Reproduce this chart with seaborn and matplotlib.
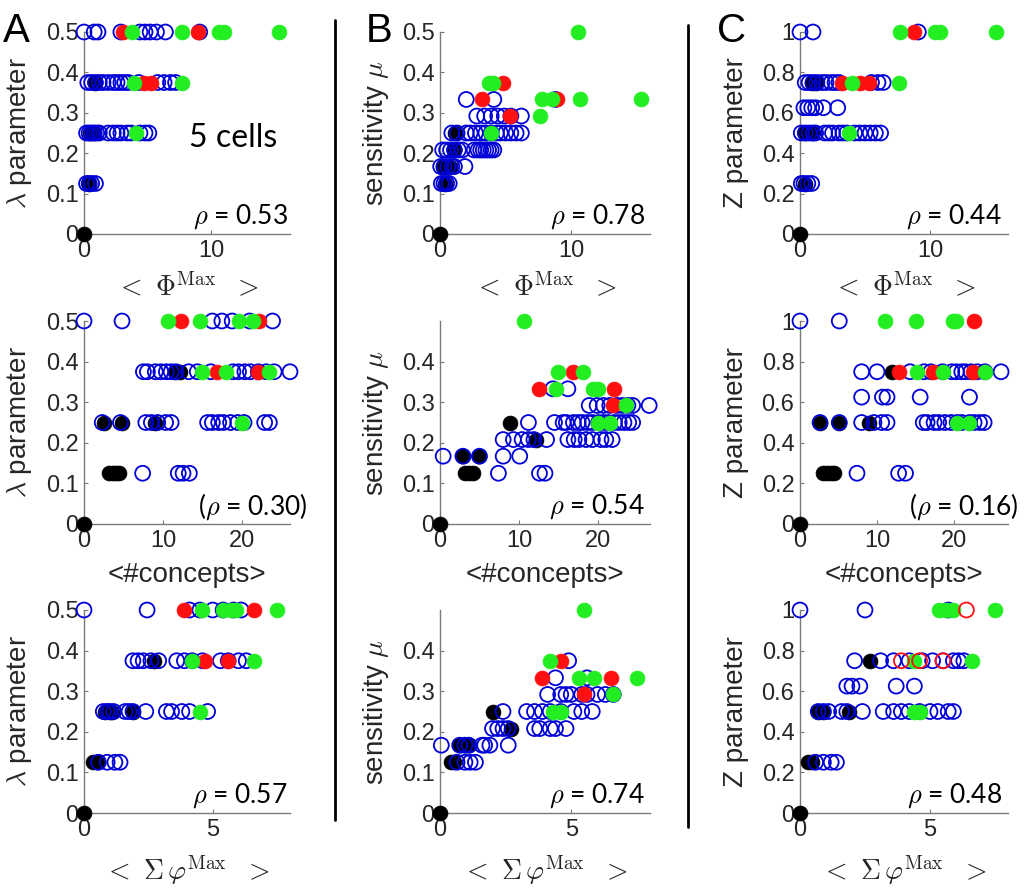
import pandas as pd
import seaborn as sns
import matplotlib.pyplot as plt
from matplotlib.lines import Line2D

sns.set_theme(style='white')
plt.rcParams['font.family'] = ['Liberation Sans', 'DejaVu Sans']
plt.rcParams['mathtext.fontset'] = 'cm'

# ---- data: {y level: [x values]} per panel and marker kind ----
# column A: lambda parameter
A1_open = {0.125: [0.2, 0.4, 0.6, 0.9],
           0.25: [0.2, 0.4, 0.6, 0.8, 1.0, 1.2, 1.9, 2.3, 2.6, 2.9, 3.4, 3.7, 4.4, 4.8, 5.1],
           0.375: [0.3, 0.6, 0.9, 1.2, 1.5, 1.9, 2.3, 2.6, 2.9, 3.2, 3.5, 4.3, 5.8, 6.3, 6.8, 7.2],
           0.5: [0.0, 0.8, 1.1, 2.9, 4.4, 4.8, 5.2, 5.7, 6.4, 9.1]}
A1_black = {0: [0.0], 0.125: [0.4], 0.25: [0.5, 0.8], 0.375: [0.9]}
A1_red = {0.375: [4.7, 5.3], 0.5: [3.1, 9.0]}
A1_green = {0.25: [4.1], 0.375: [3.9, 7.7], 0.5: [3.8, 7.7, 10.6, 11.0, 15.3]}

A2_open = {0.125: [7.4, 11.9, 12.5, 13.3],
           0.25: [2.3, 4.6, 7.8, 8.5, 9.3, 10.3, 11.0, 15.6, 16.2, 17.0, 17.6, 18.5, 19.4, 20.2, 22.8, 23.4],
           0.375: [7.5, 8.0, 9.0, 9.7, 10.4, 11.0, 11.6, 13.2, 14.3, 16.0, 18.8, 19.5, 20.3, 21.0, 22.0, 23.0, 24.0, 26.0],
           0.5: [0.0, 4.8, 16.2, 17.4, 18.7, 20.9, 23.8]}
A2_black = {0: [0.0], 0.125: [3.2, 3.6, 4.0, 4.4], 0.25: [2.5, 4.8, 8.9], 0.375: [11.5, 12.1]}
A2_red = {0.375: [16.8, 21.9], 0.5: [12.2, 22.1]}
A2_green = {0.25: [20.0], 0.375: [14.9, 17.9, 23.4], 0.5: [10.6, 14.7, 19.6, 21.3]}

A3_open = {0.125: [0.56, 0.9, 1.2, 1.4],
           0.25: [0.75, 0.9, 1.0, 1.15, 1.6, 1.75, 1.9, 2.4, 3.2, 3.4, 3.8, 4.1, 4.8],
           0.375: [1.9, 2.1, 2.3, 2.6, 2.9, 3.6, 3.9, 4.2, 4.6, 5.3, 5.6, 6.0, 6.3],
           0.5: [0.0, 2.45, 4.1, 4.5, 5.0, 5.4, 5.8, 6.1]}
A3_black = {0: [0.0], 0.125: [0.36, 0.5], 0.25: [0.8, 1.0, 1.1, 1.9], 0.375: [2.7]}
A3_red = {0.375: [4.7, 5.6], 0.5: [3.9, 6.6]}
A3_green = {0.25: [4.5], 0.375: [4.2, 6.6], 0.5: [4.6, 5.4, 5.7, 5.9, 7.5]}

# column B: sensitivity mu
B1_open = {0.125: [0.1, 0.3, 0.5, 0.7],
           0.167: [0.05, 0.3, 0.6, 0.9, 1.1, 1.9],
           0.208: [0.2, 0.5, 0.8, 1.1, 1.4, 1.7, 2.6, 2.9, 3.1, 3.3, 3.5, 3.7, 3.9, 4.1],
           0.25: [0.9, 1.3, 2.0, 2.3, 2.7, 3.1, 3.5, 3.9, 4.3, 4.6, 5.0, 5.4, 5.8, 6.2],
           0.292: [2.8, 3.4, 3.9, 4.4, 4.9, 5.4, 6.2],
           0.333: [2.0, 4.1, 8.8]}
B1_black = {0: [0.0], 0.125: [0.4], 0.167: [0.25, 0.75], 0.208: [1.1], 0.25: [1.15]}
B1_red = {0.292: [5.3], 0.333: [3.2, 8.9], 0.375: [4.8]}
B1_green = {0.25: [3.9], 0.292: [7.6], 0.333: [7.8, 8.5, 10.7, 15.3], 0.375: [3.7, 4.0], 0.5: [10.5]}

B2_open = {0.125: [7.4, 12.6, 13.3],
           0.167: [0.4, 2.9, 5.0, 8.0, 10.1],
           0.208: [8.0, 9.3, 10.4, 11.2, 11.9, 13.5, 16.2, 17.0, 17.6, 18.5, 19.3, 20.4, 21.0, 21.8],
           0.25: [11.2, 14.5, 15.6, 16.0, 16.9, 17.5, 18.0, 18.7, 19.3, 20.1, 20.7, 21.3, 22.1, 22.7, 23.3, 23.9, 24.4],
           0.292: [18.9, 19.9, 20.7, 21.5, 22.4, 23.1, 23.8, 24.4, 26.5],
           0.333: [14.3, 16.2]}
B2_black = {0: [0.0], 0.125: [3.2, 3.7, 4.2], 0.167: [2.9, 5.0], 0.208: [12.2], 0.25: [8.9]}
B2_red = {0.292: [21.9], 0.333: [12.5, 22.1], 0.375: [16.8]}
B2_green = {0.25: [20.0, 21.5], 0.292: [23.6], 0.333: [14.7, 19.4, 20.0], 0.375: [14.9, 18.1], 0.5: [10.7]}

B3_open = {0.125: [0.65, 0.95, 1.15, 1.35],
           0.167: [0.05, 0.75, 0.95, 1.1, 1.6, 1.7, 1.9, 2.6],
           0.208: [2.0, 2.2, 2.4, 2.6, 3.6, 3.8, 4.2, 4.4, 4.8],
           0.25: [2.4, 3.3, 3.6, 3.9, 4.2, 4.6, 5.1, 5.4, 5.8],
           0.292: [4.1, 4.6, 4.8, 5.0, 5.4, 5.6, 6.0, 6.3, 6.6],
           0.333: [4.4, 5.6],
           0.375: [4.9]}
B3_black = {0: [0.0], 0.125: [0.4, 0.55], 0.167: [0.75, 0.95, 1.1], 0.208: [2.7], 0.25: [2.0]}
B3_red = {0.292: [5.5], 0.333: [3.9, 6.5], 0.375: [4.6]}
B3_green = {0.25: [4.3, 4.6], 0.292: [6.6], 0.333: [5.3, 5.85, 7.5], 0.375: [4.2], 0.5: [5.5]}

# column C: Z parameter
C1_open = {0.25: [0.1, 0.3, 0.6, 0.9],
           0.5: [0.1, 0.4, 0.7, 1.0, 1.2, 1.9, 2.2, 2.5, 3.0, 3.3, 3.6, 4.2, 4.6, 5.0, 5.4, 5.8, 6.2],
           0.625: [0.3, 0.6, 0.9, 1.2, 1.8, 2.9],
           0.75: [0.4, 0.7, 1.0, 1.3, 1.7, 2.0, 2.4, 2.7, 3.0, 5.5, 6.0, 6.4],
           1.0: [0.0, 1.0, 9.1]}
C1_black = {0: [0.0], 0.25: [0.4], 0.5: [0.4, 0.9], 0.75: [0.9, 1.2]}
C1_red = {0.75: [3.2, 4.6, 5.3], 1.0: [8.8]}
C1_green = {0.5: [3.8], 0.75: [4.0, 7.6], 1.0: [7.7, 10.4, 10.8, 15.1]}

C2_open = {0.25: [7.4, 12.8, 13.7],
           0.5: [2.6, 5.1, 8.0, 9.6, 10.6, 11.3, 16.0, 16.5, 17.4, 18.0, 18.8, 19.6, 20.4, 21.0, 22.0, 22.6, 23.3, 23.9],
           0.625: [8.0, 10.7, 11.3, 15.6, 22.0],
           0.75: [8.0, 10.0, 14.3, 16.1, 17.0, 18.5, 19.7, 20.3, 21.0, 21.5, 22.2, 23.0, 24.0, 26.1],
           1.0: [0.0, 5.1]}
C2_black = {0: [0.0], 0.25: [3.0, 3.5, 4.0, 4.4], 0.5: [2.6, 5.1, 8.9], 0.75: [12.0]}
C2_red = {0.75: [12.8, 17.3, 22.5], 1.0: [22.6]}
C2_green = {0.5: [20.4, 22.0], 0.75: [15.2, 18.5, 24.0], 1.0: [11.0, 15.0, 19.8, 20.2]}

C3_open = {0.25: [0.6, 0.9, 1.2, 1.4],
           0.5: [0.7, 0.9, 1.1, 1.6, 1.8, 2.4, 3.2, 3.6, 3.9, 4.2, 4.6, 5.0, 5.3, 5.7, 5.9],
           0.625: [1.8, 2.0, 2.3, 3.7, 4.4],
           0.75: [2.1, 3.1, 3.6, 4.2, 4.7, 5.1, 5.5, 5.9, 6.1, 6.3],
           1.0: [0.0, 2.5, 5.7]}
C3_black = {0: [0.0], 0.25: [0.3, 0.45], 0.5: [0.7, 0.9, 1.9], 0.75: [2.7]}
C3_red = {}
C3_green = {0.5: [4.4, 4.6], 0.75: [4.4, 6.6], 1.0: [5.35, 5.6, 5.9, 7.5]}
C3_red_open = {0.75: [3.9, 4.6, 5.5], 1.0: [6.4]}

rho_text = {'A1': '0.53', 'B1': '0.78', 'C1': '0.44',
            'A2': '(0.30)', 'B2': '0.54', 'C2': '(0.16)',
            'A3': '0.57', 'B3': '0.74', 'C3': '0.48'}

ylabels = {'A': r'$\lambda$ parameter', 'B': r'sensitivity $\mu$', 'C': 'Z parameter'}
xlabels = [r'$<\ \Phi^{\mathrm{Max}}\ \ >$', '<#concepts>', r'$<\ \Sigma\,\varphi^{\mathrm{Max}}\ \ >$']
xmax = {'A': [16.2, 26.0, 8.0], 'B': [16.0, 26.6, 8.0], 'C': [16.0, 27.0, 8.0]}
xticks = [[0, 10], [0, 10, 20], [0, 5]]


def to_frame(levels):
    xs, ys = [], []
    for y, xv in levels.items():
        xs += xv
        ys += [y] * len(xv)
    return pd.DataFrame({'x': xs, 'y': ys})


BLUE = '#0000d8'
GREEN = '#22ee22'
RED = '#ff1010'
MS = 115

fig = plt.figure(figsize=(10.24, 8.89), dpi=100)
W, H = 1024, 889
col_px = {'A': (84, 290), 'B': (440, 650), 'C': (800, 1008)}
row_px = [(32, 234), (321, 524), (610, 813)]
xlab_px = [54, 51, 57]  # distance from x axis to label centre

for col in 'ABC':
    for r in range(3):
        key = f'{col}{r + 1}'
        l, rr = col_px[col]
        t, b = row_px[r]
        ax = fig.add_axes([l / W, 1 - b / H, (rr - l) / W, (b - t) / H])
        g = globals()
        layers = [(g[key + '_black'], 'black', 'black', 0.5),
                  (g[key + '_open'], 'none', BLUE, 1.3),
                  (g[key + '_red'], RED, RED, 0.5),
                  (g[key + '_green'], GREEN, GREEN, 0.5)]
        if key + '_red_open' in g:
            layers.append((g[key + '_red_open'], 'none', RED, 1.3))
        for levels, face, edge, lw in layers:
            df = to_frame(levels)
            if df.empty:
                continue
            sns.scatterplot(data=df, x='x', y='y', ax=ax, s=MS, marker='o',
                            color=edge, facecolor=face, edgecolor=edge,
                            linewidth=lw, clip_on=False, legend=False, zorder=3)

        ax.set_xlim(0, xmax[col][r])
        if col == 'C':
            ax.set_ylim(0, 1)
            ax.set_yticks([0, 0.2, 0.4, 0.6, 0.8, 1])
            ax.set_yticklabels(['0', '0.2', '0.4', '0.6', '0.8', '1'])
        else:
            ax.set_ylim(0, 0.5)
            yt = [0, 0.1, 0.2, 0.3, 0.4, 0.5] if (col == 'A' or r == 0) else [0, 0.1, 0.2, 0.3, 0.4]
            ax.set_yticks(yt)
            ax.set_yticklabels(['0' if v == 0 else f'{v:.1f}' for v in yt])
        ax.set_xticks(xticks[r])
        ax.set_xticklabels([str(v) for v in xticks[r]])

        sns.despine(ax=ax)
        for s in ['left', 'bottom']:
            ax.spines[s].set_color('#7a7a7a')
            ax.spines[s].set_linewidth(1.0)
        ax.tick_params(direction='in', length=3, width=0.8, color='#7a7a7a',
                       labelcolor='#262626', labelsize=17, pad=4,
                       bottom=True, left=True)

        ax.set_xlabel(xlabels[r], fontsize=20, color='#262626', va='center')
        ax.xaxis.set_label_coords(0.5, -xlab_px[r] / (b - t))
        ax.set_ylabel(ylabels[col], fontsize=20, color='#262626', va='center')
        ax.yaxis.set_label_coords(-64 / (rr - l), 0.5)

        txt = rho_text[key]
        if txt.startswith('('):
            label = r'($\rho$ = ' + txt[1:]
        else:
            label = r'$\rho$ = ' + txt
        xr = {'A': 0.99, 'B': 0.976, 'C': 0.971}[col]
        if key == 'A2':
            xr = 1.083
        if key == 'C2':
            xr = 1.048
        ax.text(xr, 0.085, label, transform=ax.transAxes, ha='right', va='center',
                fontsize=19, family='Lato', color='black')
        if key == 'A1':
            ax.text(0.723, 0.475, '5 cells', transform=ax.transAxes, ha='center',
                    va='center', fontsize=23, family='Lato', color='black')

# panel letters
for letter, px in [('A', 3), ('B', 366), ('C', 717)]:
    fig.text(px / W, 1 - 42 / H, letter, fontsize=29, va='baseline', ha='left', color='black')

# separators
fig.add_artist(Line2D([335 / W, 335 / W], [1 - 20 / H, 1 - 820 / H], color='black', lw=2))
fig.add_artist(Line2D([688 / W, 688 / W], [1 - 25 / H, 1 - 827 / H], color='black', lw=2))

fig.savefig('out.png', dpi=100, facecolor='white')
